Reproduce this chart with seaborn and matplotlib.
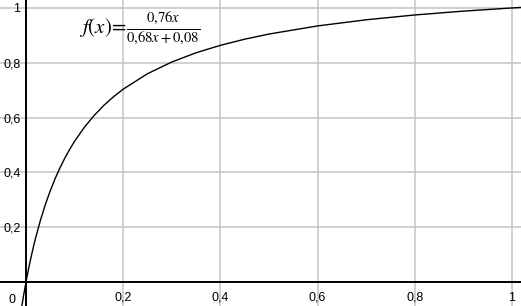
import matplotlib
matplotlib.use("Agg")
import matplotlib.pyplot as plt
import seaborn as sns
import pandas as pd
from matplotlib.ticker import FixedLocator, FuncFormatter

# Curve points: f(x) = 0.76x / (0.68x + 0.08)
x_vals = [-0.01, -0.005, 0.0, 0.005, 0.01, 0.015, 0.02, 0.03, 0.04, 0.05,
          0.06, 0.07, 0.08, 0.09, 0.10, 0.12, 0.14, 0.16, 0.18, 0.20,
          0.25, 0.30, 0.35, 0.40, 0.45, 0.50, 0.60, 0.70, 0.80, 0.90,
          1.00, 1.02]
y_vals = [-0.1038, -0.0496, 0.0, 0.0456, 0.0876, 0.1264, 0.1624, 0.2271, 0.2836, 0.3333,
          0.3775, 0.4169, 0.4524, 0.4844, 0.5135, 0.5644, 0.6073, 0.6441, 0.6759, 0.7037,
          0.7600, 0.8028, 0.8365, 0.8636, 0.8860, 0.9048, 0.9344, 0.9568, 0.9744, 0.9884,
          1.0000, 1.0021]
x_ticks = [0.2, 0.4, 0.6, 0.8, 1.0]
y_ticks = [0.2, 0.4, 0.6, 0.8, 1.0]
formula = r"$f(x)\!=\!\frac{0{,}76x}{0{,}68x+0{,}08}$"

sns.set_theme(style="white")
plt.rcParams["font.family"] = ["Liberation Sans", "DejaVu Sans"]
plt.rcParams["mathtext.fontset"] = "stix"

df = pd.DataFrame({"x": x_vals, "y": y_vals})

fig = plt.figure(figsize=(5.21, 3.06), dpi=100)
ax = fig.add_axes([0, 0, 1, 1])
ax.set_xlim(-0.0535, 1.0185)
ax.set_ylim(-0.0876, 1.029)

ax.xaxis.set_major_locator(FixedLocator(x_ticks))
ax.yaxis.set_major_locator(FixedLocator(y_ticks))
ax.grid(True, color="#c4c4c4", linewidth=1.1, zorder=0)

sns.lineplot(data=df, x="x", y="y", ax=ax, color="black", linewidth=1.0,
             sort=False, estimator=None, zorder=3)

for side in ("top", "right"):
    ax.spines[side].set_visible(False)
ax.spines["left"].set_position(("data", 0))
ax.spines["bottom"].set_position(("data", 0))
for side in ("left", "bottom"):
    ax.spines[side].set_color("black")
    ax.spines[side].set_linewidth(1.4)
    ax.spines[side].set_zorder(2)

fmt = FuncFormatter(lambda v, p: ("%g" % v).replace(".", ","))
ax.xaxis.set_major_formatter(fmt)
ax.yaxis.set_major_formatter(fmt)
ax.tick_params(axis="both", direction="inout", length=6, width=1.2, color="black",
               labelsize=9, labelcolor="black")
ax.tick_params(axis="x", pad=4)
ax.tick_params(axis="y", pad=1)
ax.set_xlabel("")
ax.set_ylabel("")

ax.text(-0.0288, -0.066, "0", fontsize=9, ha="center", va="center", color="black")
ax.text(0.11, 0.925, formula, fontsize=15, ha="left", va="center", color="black")

fig.savefig("out.png", dpi=100)
